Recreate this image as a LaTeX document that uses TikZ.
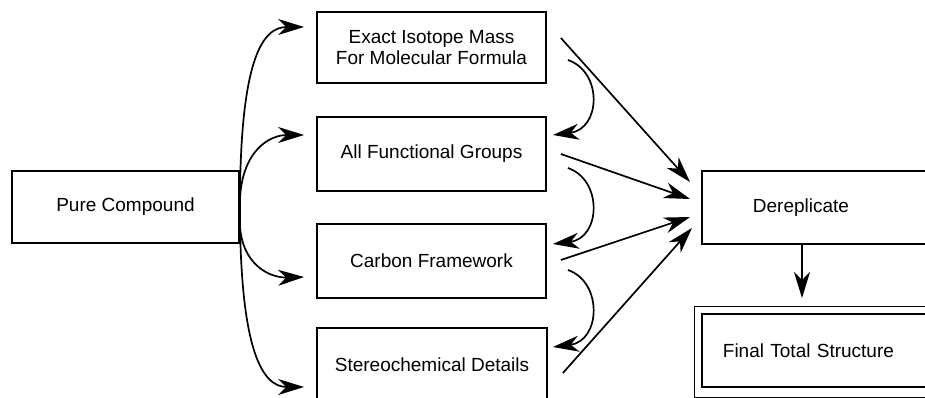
\documentclass[tikz,border=0pt]{standalone}
\usepackage{fontspec}
\setmainfont{Liberation Sans}
\usetikzlibrary{arrows.meta}
\begin{document}
\begin{tikzpicture}[x=1pt,y=-1pt,
  box/.style={draw, line width=1.8pt, minimum width=229pt, minimum height=73pt, inner sep=0pt, align=center, font=\fontsize{19}{21.5}\selectfont},
  conn/.style={line width=1.7pt, -{Stealth[length=26pt,width=16pt,inset=8pt]}}]
\useasboundingbox (0,0) rectangle (925,398);
\clip (0,0) rectangle (925,398);
\node[box, minimum width=227pt, minimum height=72pt] (pc) at (125.5,207) {Pure Compound};
\node[box, minimum height=71pt] (iso) at (431.5,47.5) {Exact Isotope Mass\\For Molecular Formula};
\node[box, minimum height=74pt] (fg) at (431.5,154) {All Functional Groups};
\node[box, minimum height=74pt] (cf) at (431.5,261) {Carbon Framework};
\node[box, minimum width=230pt, minimum height=74pt] (st) at (432,365) {Stereochemical Details};
\node[box, anchor=west, minimum width=0pt, text width=150pt, inner xsep=51pt, align=left] (der) at (701,207.5) {Dereplicate};
\node[box, anchor=west, minimum width=0pt, text width=210pt, inner xsep=21pt, align=left] (fin) at (701,350.5) {Final Total Structure};
\draw[line width=0.9pt] ([shift={(-7,-7)}]fin.north west) rectangle ([shift={(7,10)}]fin.south east);
% from pure compound
\draw[conn] (pc.east) .. controls (240,60) and (262,27) .. ([shift={(-12,-20.5)}]iso.west);
\draw[conn] ([shift={(0,-7)}]pc.east) .. controls (242,150) and (270,135) .. ([shift={(-12,-19)}]fg.west);
\draw[conn] ([shift={(0,18)}]pc.east) .. controls (242,265) and (270,278) .. ([shift={(-12,16)}]cf.west);
\draw[conn] (pc.east) .. controls (240,350) and (262,387) .. ([shift={(-12,22)}]st.west);
% straight to dereplicate
\draw[conn] ([shift={(14,-9.5)}]iso.east) -- ([shift={(-11,-25.5)}]der.west);
\draw[conn] ([shift={(14,0)}]fg.east) -- ([shift={(-11,-8.5)}]der.west);
\draw[conn] ([shift={(14,-1)}]cf.east) -- ([shift={(-11,9.5)}]der.west);
\draw[conn] ([shift={(15,8)}]st.east) -- ([shift={(-9,20.5)}]der.west);
% curved between boxes
\draw[conn] ([shift={(21,12.5)}]iso.east) .. controls +(35,12) and +(48,-6) .. ([shift={(6,-19)}]fg.east);
\draw[conn] ([shift={(21,14)}]fg.east) .. controls +(35,12) and +(48,-6) .. ([shift={(6,-17)}]cf.east);
\draw[conn] ([shift={(21,9)}]cf.east) .. controls +(35,12) and +(48,-6) .. ([shift={(5,-18)}]st.east);
% dereplicate to final
\draw[conn] (802,244) -- (802,298);
\end{tikzpicture}
\end{document}
